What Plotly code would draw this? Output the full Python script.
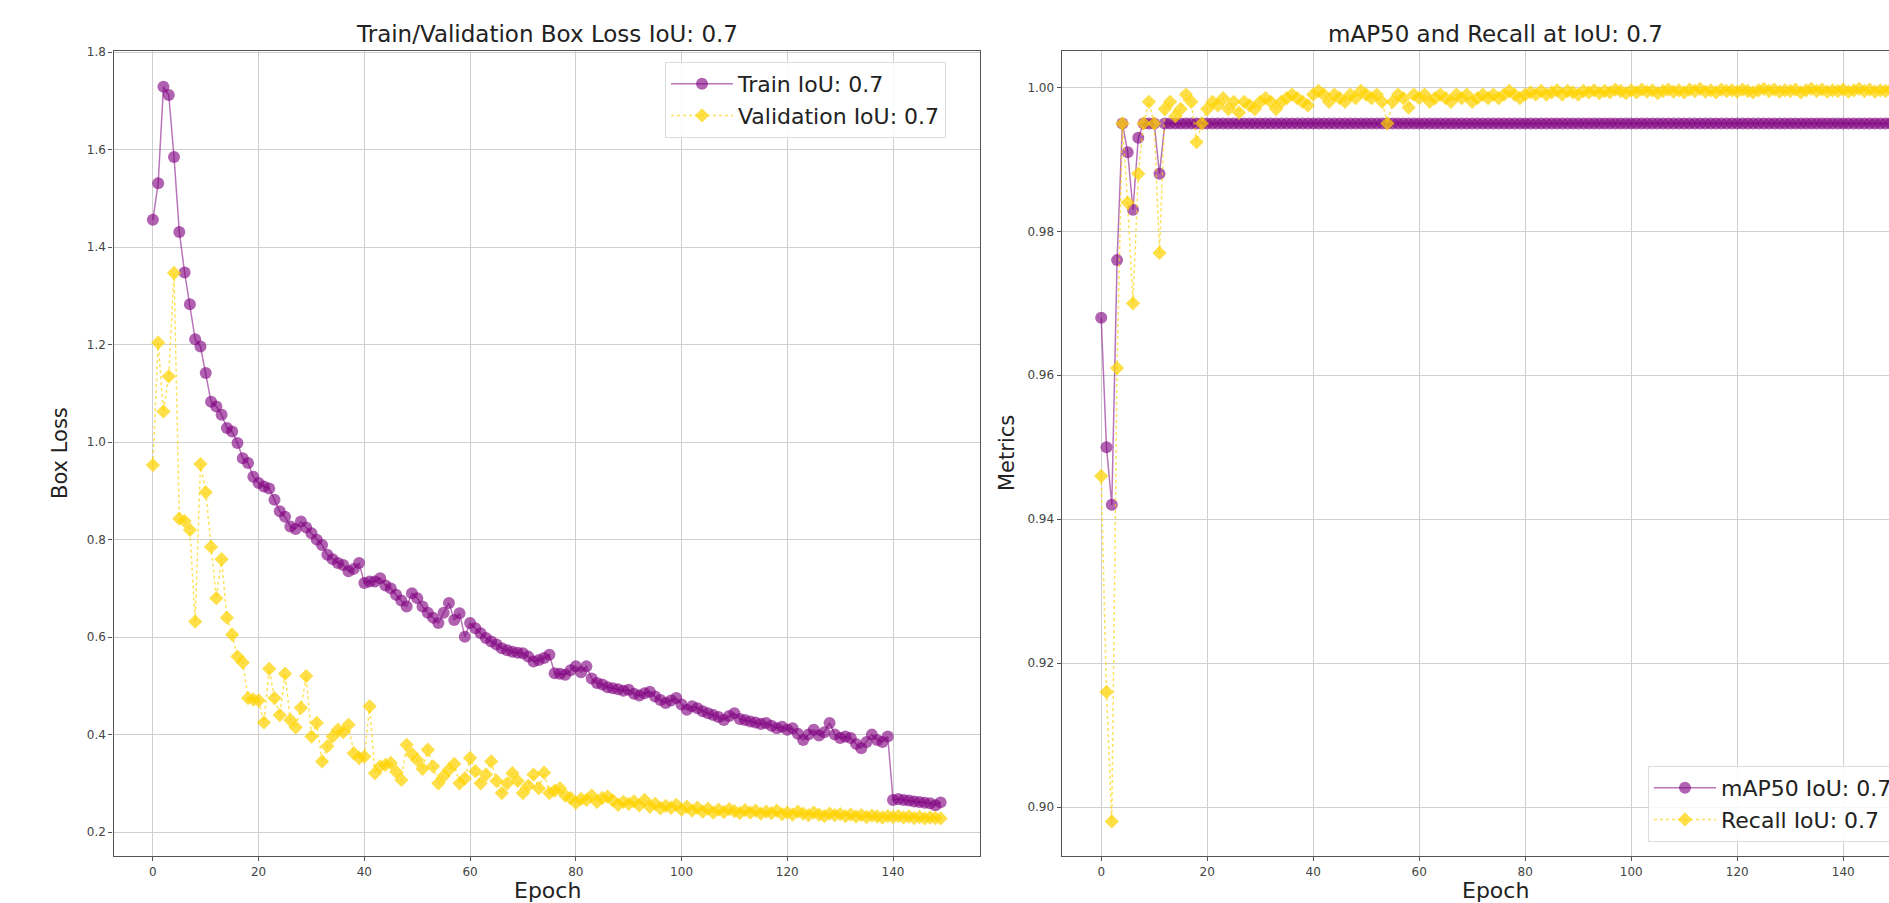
import plotly.graph_objects as go

# ---------------- data ----------------
epochs = list(range(150))

train_box_loss = [
    1.456, 1.531, 1.729, 1.712, 1.585, 1.431, 1.348, 1.283, 1.211, 1.196,
    1.142, 1.083, 1.073, 1.056, 1.029, 1.022, 0.998, 0.967, 0.957, 0.929,
    0.916, 0.909, 0.905, 0.882, 0.858, 0.847, 0.827, 0.822, 0.837, 0.825,
    0.813, 0.800, 0.789, 0.769, 0.760, 0.752, 0.748, 0.735, 0.740, 0.752,
    0.711, 0.714, 0.714, 0.721, 0.706, 0.700, 0.687, 0.675, 0.663, 0.690,
    0.680, 0.663, 0.650, 0.640, 0.629, 0.650, 0.670, 0.635, 0.649, 0.601,
    0.629, 0.618, 0.608, 0.598, 0.591, 0.585, 0.577, 0.573, 0.570, 0.568,
    0.567, 0.560, 0.550, 0.553, 0.557, 0.564, 0.526, 0.525, 0.523, 0.532,
    0.540, 0.528, 0.540, 0.515, 0.506, 0.503, 0.497, 0.495, 0.493, 0.490,
    0.492, 0.484, 0.480, 0.485, 0.488, 0.478, 0.471, 0.465, 0.470, 0.475,
    0.462, 0.451, 0.458, 0.454, 0.448, 0.444, 0.440, 0.436, 0.430, 0.438,
    0.444, 0.432, 0.430, 0.427, 0.425, 0.422, 0.424, 0.418, 0.413, 0.416,
    0.410, 0.413, 0.402, 0.389, 0.400, 0.410, 0.398, 0.405, 0.424, 0.400,
    0.393, 0.396, 0.393, 0.381, 0.372, 0.385, 0.400, 0.389, 0.385, 0.396,
    0.266, 0.268, 0.266, 0.265, 0.263, 0.262, 0.260, 0.259, 0.255, 0.261,
]

val_box_loss = [
    0.953, 1.204, 1.063, 1.135, 1.347, 0.843, 0.838, 0.820, 0.632, 0.955,
    0.897, 0.785, 0.680, 0.760, 0.640, 0.605, 0.560, 0.548, 0.475, 0.472,
    0.470, 0.425, 0.535, 0.475, 0.440, 0.525, 0.430, 0.415, 0.455, 0.520,
    0.396, 0.424, 0.345, 0.376, 0.396, 0.410, 0.405, 0.420, 0.362, 0.352,
    0.355, 0.458, 0.321, 0.335, 0.338, 0.342, 0.324, 0.307, 0.379, 0.360,
    0.348, 0.330, 0.369, 0.335, 0.300, 0.315, 0.328, 0.340, 0.300, 0.310,
    0.352, 0.325, 0.300, 0.318, 0.345, 0.305, 0.280, 0.300, 0.321, 0.305,
    0.280, 0.295, 0.318, 0.290, 0.322, 0.280, 0.285, 0.290, 0.275, 0.270,
    0.260, 0.268, 0.266, 0.275, 0.262, 0.270, 0.273, 0.265, 0.256, 0.262,
    0.258, 0.263, 0.255, 0.266, 0.252, 0.258, 0.249, 0.254, 0.250, 0.256,
    0.246, 0.252, 0.244, 0.250, 0.242, 0.248, 0.240, 0.246, 0.241, 0.247,
    0.243, 0.239, 0.245, 0.240, 0.244, 0.238, 0.242, 0.239, 0.244, 0.237,
    0.240, 0.236, 0.242, 0.238, 0.235, 0.240, 0.236, 0.233, 0.238, 0.235,
    0.237, 0.233, 0.236, 0.232, 0.235, 0.231, 0.234, 0.232, 0.230, 0.233,
    0.231, 0.233, 0.230, 0.232, 0.229, 0.231, 0.228, 0.230, 0.229, 0.228,
]

map50 = [
    0.968, 0.950, 0.942, 0.976, 0.995, 0.991, 0.983, 0.993, 0.995, 0.995,
    0.995, 0.988, 0.995, 0.995, 0.995, 0.995, 0.995, 0.995, 0.995, 0.995,
    0.995, 0.995, 0.995, 0.995, 0.995, 0.995, 0.995, 0.995, 0.995, 0.995,
    0.995, 0.995, 0.995, 0.995, 0.995, 0.995, 0.995, 0.995, 0.995, 0.995,
    0.995, 0.995, 0.995, 0.995, 0.995, 0.995, 0.995, 0.995, 0.995, 0.995,
    0.995, 0.995, 0.995, 0.995, 0.995, 0.995, 0.995, 0.995, 0.995, 0.995,
    0.995, 0.995, 0.995, 0.995, 0.995, 0.995, 0.995, 0.995, 0.995, 0.995,
    0.995, 0.995, 0.995, 0.995, 0.995, 0.995, 0.995, 0.995, 0.995, 0.995,
    0.995, 0.995, 0.995, 0.995, 0.995, 0.995, 0.995, 0.995, 0.995, 0.995,
    0.995, 0.995, 0.995, 0.995, 0.995, 0.995, 0.995, 0.995, 0.995, 0.995,
    0.995, 0.995, 0.995, 0.995, 0.995, 0.995, 0.995, 0.995, 0.995, 0.995,
    0.995, 0.995, 0.995, 0.995, 0.995, 0.995, 0.995, 0.995, 0.995, 0.995,
    0.995, 0.995, 0.995, 0.995, 0.995, 0.995, 0.995, 0.995, 0.995, 0.995,
    0.995, 0.995, 0.995, 0.995, 0.995, 0.995, 0.995, 0.995, 0.995, 0.995,
    0.995, 0.995, 0.995, 0.995, 0.995, 0.995, 0.995, 0.995, 0.995, 0.995,
]

recall = [
    0.946, 0.916, 0.898, 0.961, 0.995, 0.984, 0.970, 0.988, 0.995, 0.998,
    0.995, 0.977, 0.997, 0.998, 0.996, 0.997, 0.999, 0.998, 0.9924, 0.995,
    0.997, 0.998, 0.9975, 0.9985, 0.997, 0.998, 0.9965, 0.998, 0.9975, 0.997,
    0.998, 0.9985, 0.998, 0.997, 0.998, 0.9985, 0.999, 0.9985, 0.998, 0.9975,
    0.999, 0.9995, 0.999, 0.998, 0.999, 0.9985, 0.998, 0.999, 0.9985, 0.9995,
    0.999, 0.9985, 0.999, 0.998, 0.995, 0.998, 0.999, 0.9985, 0.9972, 0.999,
    0.9985, 0.999, 0.998, 0.9985, 0.999, 0.9985, 0.998, 0.999, 0.9985, 0.999,
    0.998, 0.9985, 0.999, 0.9985, 0.999, 0.9985, 0.999, 0.9995, 0.999, 0.9985,
    0.999, 0.9993, 0.999, 0.9995, 0.999, 0.9993, 0.9996, 0.999, 0.9995, 0.9993,
    0.999, 0.9995, 0.9993, 0.9996, 0.9992, 0.9995, 0.9993, 0.9997, 0.9995, 0.9992,
    0.9996, 0.9993, 0.9997, 0.9994, 0.9996, 0.9992, 0.9995, 0.9997, 0.9994, 0.9996,
    0.9993, 0.9997, 0.9995, 0.9998, 0.9994, 0.9996, 0.9993, 0.9997, 0.9995, 0.9996,
    0.9994, 0.9997, 0.9995, 0.9993, 0.9996, 0.9998, 0.9995, 0.9997, 0.9994, 0.9996,
    0.9995, 0.9997, 0.9993, 0.9996, 0.9998, 0.9995, 0.9997, 0.9994, 0.9996, 0.9995,
    0.9997, 0.9994, 0.9996, 0.9998, 0.9995, 0.9997, 0.9994, 0.9996, 0.9995, 0.9997,
]

x_ticks = [0, 20, 40, 60, 80, 100, 120, 140]
loss_ticks = [0.2, 0.4, 0.6, 0.8, 1.0, 1.2, 1.4, 1.6, 1.8]
metric_ticks = [0.90, 0.92, 0.94, 0.96, 0.98, 1.00]

# ---------------- style ----------------
W, H = 1960, 903
PURPLE = "rgba(128,0,128,0.62)"
PURPLE_LINE = "rgba(128,0,128,0.55)"
GOLD = "rgba(255,210,0,0.72)"
GOLD_LINE = "rgba(255,210,0,0.65)"
FONT = "DejaVu Sans"
TXT = "#222222"

fig = go.Figure()

fig.add_trace(go.Scatter(
    x=epochs, y=train_box_loss, name="Train IoU: 0.7", mode="lines+markers",
    line=dict(color=PURPLE_LINE, width=1.5),
    marker=dict(symbol="circle", size=12, color=PURPLE, line=dict(width=0)),
    xaxis="x", yaxis="y", legend="legend",
))
fig.add_trace(go.Scatter(
    x=epochs, y=val_box_loss, name="Validation IoU: 0.7", mode="lines+markers",
    line=dict(color=GOLD_LINE, width=1.5, dash="dot"),
    marker=dict(symbol="diamond", size=11, color=GOLD, line=dict(width=0)),
    xaxis="x", yaxis="y", legend="legend",
))
fig.add_trace(go.Scatter(
    x=epochs, y=map50, name="mAP50 IoU: 0.7", mode="lines+markers",
    line=dict(color=PURPLE_LINE, width=1.5),
    marker=dict(symbol="circle", size=12, color=PURPLE, line=dict(width=0)),
    xaxis="x2", yaxis="y2", legend="legend2",
))
fig.add_trace(go.Scatter(
    x=epochs, y=recall, name="Recall IoU: 0.7", mode="lines+markers",
    line=dict(color=GOLD_LINE, width=1.5, dash="dot"),
    marker=dict(symbol="diamond", size=11, color=GOLD, line=dict(width=0)),
    xaxis="x2", yaxis="y2", legend="legend2",
))

ax_common = dict(
    showline=True, linecolor="#555555", linewidth=1.3, mirror=True,
    ticks="outside", ticklen=4, tickcolor="#555555",
    showgrid=True, gridcolor="#cfcfcf", gridwidth=1,
    zeroline=False, automargin=False,
    tickfont=dict(family=FONT, size=12, color="#444444"),
)

ydom = [(H - 856) / H, (H - 50.7) / H]

legend_common = dict(
    xanchor="left", yanchor="top",
    bgcolor="rgba(255,255,255,0.85)", bordercolor="#dcdcdc", borderwidth=1,
    font=dict(family=FONT, size=22, color=TXT), itemwidth=62,
)

fig.update_layout(
    width=W, height=H,
    margin=dict(l=0, r=0, t=0, b=0),
    paper_bgcolor="white", plot_bgcolor="white",
    font=dict(family=FONT, color=TXT),
    xaxis=dict(domain=[113.5 / W, 980 / W], range=[-7.45, 156.45],
               tickvals=x_ticks, anchor="y", **ax_common),
    yaxis=dict(domain=ydom, range=[0.151, 1.803], tickvals=loss_ticks,
               tickformat=".1f", anchor="x", **ax_common),
    xaxis2=dict(domain=[1061.7 / W, 1930.4 / W], range=[-7.45, 156.45],
                tickvals=x_ticks, anchor="y2", **ax_common),
    yaxis2=dict(domain=ydom, range=[0.8932, 1.0051], tickvals=metric_ticks,
                tickformat=".2f", anchor="x2", **ax_common),
    legend=dict(x=665 / W, y=1 - 62 / H, **legend_common),
    legend2=dict(x=1648 / W, y=1 - 766 / H, **legend_common),
    annotations=[
        dict(text="Train/Validation Box Loss IoU: 0.7", x=547 / W, y=1 - 34 / H,
             xref="paper", yref="paper", showarrow=False, xanchor="center",
             yanchor="middle", font=dict(family=FONT, size=23, color=TXT)),
        dict(text="mAP50 and Recall at IoU: 0.7", x=1495 / W, y=1 - 34 / H,
             xref="paper", yref="paper", showarrow=False, xanchor="center",
             yanchor="middle", font=dict(family=FONT, size=23, color=TXT)),
        dict(text="Epoch", x=547 / W, y=1 - 890 / H, xref="paper", yref="paper",
             showarrow=False, xanchor="center", yanchor="middle",
             font=dict(family=FONT, size=22, color=TXT)),
        dict(text="Epoch", x=1495 / W, y=1 - 890 / H, xref="paper", yref="paper",
             showarrow=False, xanchor="center", yanchor="middle",
             font=dict(family=FONT, size=22, color=TXT)),
        dict(text="Box Loss", x=60 / W, y=1 - 453 / H, xref="paper", yref="paper",
             showarrow=False, xanchor="center", yanchor="middle", textangle=-90,
             font=dict(family=FONT, size=21, color=TXT)),
        dict(text="Metrics", x=1007 / W, y=1 - 453 / H, xref="paper", yref="paper",
             showarrow=False, xanchor="center", yanchor="middle", textangle=-90,
             font=dict(family=FONT, size=21, color=TXT)),
    ],
)

fig.write_html(
    "out.html",
    config={"displayModeBar": False},
    post_script="document.body.style.margin='0';document.body.style.overflow='hidden';",
)
